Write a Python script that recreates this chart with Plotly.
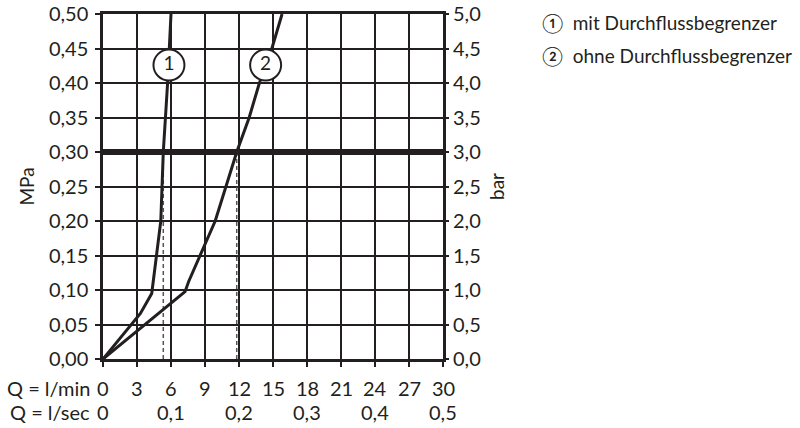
import plotly.graph_objects as go

# ---- data ----
curve1_q = [0, 2.5, 3.3, 4.3, 4.45, 4.7, 5.1, 5.32, 5.7, 6.0]
curve1_p = [0, 0.05, 0.066, 0.095, 0.115, 0.15, 0.20, 0.30, 0.40, 0.50]
curve2_q = [0, 3.6, 7.24, 7.55, 8.7, 9.9, 11.8, 12.9, 13.8, 14.9, 15.8]
curve2_p = [0, 0.048, 0.0975, 0.112, 0.155, 0.20, 0.30, 0.35, 0.40, 0.45, 0.50]
ref_pressure = 0.30
flow_at_ref = [5.32, 11.8]
label_pos_q = [5.82, 14.35]
label_pos_p = [0.426, 0.426]
label_text = ["1", "2"]

mpa_ticks = [0.00, 0.05, 0.10, 0.15, 0.20, 0.25, 0.30, 0.35, 0.40, 0.45, 0.50]
mpa_labels = ["0,00", "0,05", "0,10", "0,15", "0,20", "0,25", "0,30", "0,35", "0,40", "0,45", "0,50"]
bar_ticks = [0.0, 0.5, 1.0, 1.5, 2.0, 2.5, 3.0, 3.5, 4.0, 4.5, 5.0]
bar_labels = ["0,0", "0,5", "1,0", "1,5", "2,0", "2,5", "3,0", "3,5", "4,0", "4,5", "5,0"]
lmin_ticks = [0, 3, 6, 9, 12, 15, 18, 21, 24, 27, 30]
lmin_labels = ["0", "3", "6", "9", "12", "15", "18", "21", "24", "27", "30"]
lsec_pos = [0, 6, 12, 18, 24, 30]
lsec_labels = ["0", "0,1", "0,2", "0,3", "0,4", "0,5"]
row_titles = ["Q = l/min", "Q = l/sec"]
legend_lines = ["\u2460  mit Durchflussbegrenzer", "\u2461  ohne Durchflussbegrenzer"]

FONT = "Lato"
FS = 20
LFS = 19
INK = "#231f20"

fig = go.Figure()

# reference line at 0.30 MPa
fig.add_trace(go.Scatter(x=[0, 30], y=[ref_pressure, ref_pressure], mode="lines",
                         line=dict(color=INK, width=6), hoverinfo="skip"))
# dashed drop lines
for q in flow_at_ref:
    fig.add_trace(go.Scatter(x=[q, q], y=[0, ref_pressure], mode="lines",
                             line=dict(color="#555555", width=1.5, dash="4px,3px"), hoverinfo="skip"))
# curves
fig.add_trace(go.Scatter(x=curve1_q, y=curve1_p, mode="lines",
                         line=dict(color=INK, width=3), hoverinfo="skip"))
fig.add_trace(go.Scatter(x=curve2_q, y=curve2_p, mode="lines",
                         line=dict(color=INK, width=3), hoverinfo="skip"))
# circled labels
fig.add_trace(go.Scatter(x=label_pos_q, y=label_pos_p, mode="markers+text",
                         marker=dict(size=31, color="white", line=dict(color=INK, width=2)),
                         text=label_text, textposition="middle center",
                         textfont=dict(family=FONT, size=LFS, color=INK), hoverinfo="skip"))
# invisible trace for right axis
fig.add_trace(go.Scatter(x=[0, 30], y=[0, 5], yaxis="y2", mode="lines",
                         line=dict(width=0), hoverinfo="skip"))

fig.update_layout(
    width=800, height=428,
    margin=dict(l=103, r=357, t=14, b=69, autoexpand=False),
    paper_bgcolor="white", plot_bgcolor="white",
    showlegend=False,
    font=dict(family=FONT, size=FS, color=INK),
    xaxis=dict(range=[0, 30], tickvals=lmin_ticks, showticklabels=False, automargin=False,
               showgrid=True, gridcolor=INK, gridwidth=2,
               showline=True, linecolor=INK, linewidth=2.5, mirror=True,
               ticks="outside", ticklen=5, tickwidth=2, tickcolor=INK, zeroline=False),
    yaxis=dict(range=[0, 0.5], tickvals=mpa_ticks, ticktext=mpa_labels, automargin=False,
               showgrid=True, gridcolor=INK, gridwidth=2,
               showline=True, linecolor=INK, linewidth=2.5, mirror=True,
               ticks="outside", ticklen=5, tickwidth=2, tickcolor=INK, zeroline=False,
               title=dict(text="MPa", standoff=10, font=dict(size=LFS)), ticklabelstandoff=3),
    yaxis2=dict(range=[0, 5], tickvals=bar_ticks, ticktext=bar_labels, overlaying="y", side="right",
                automargin=False,
                showgrid=False, showline=False, ticks="outside", ticklen=5, tickwidth=2, tickcolor=INK,
                zeroline=False, title=dict(text="bar", standoff=10, font=dict(size=LFS)),
                ticklabelstandoff=0),
)

# bottom rows (tick labels of the two flow scales)
for v, t in zip(lmin_ticks, lmin_labels):
    fig.add_annotation(x=v, xref="x", y=0, yref="y", yshift=-29, text=t, showarrow=False)
for v, t in zip(lsec_pos, lsec_labels):
    fig.add_annotation(x=v, xref="x", y=0, yref="y", yshift=-53, text=t, showarrow=False)
for i, t in enumerate(row_titles):
    fig.add_annotation(x=0, xref="x", xshift=-11, xanchor="right", y=0, yref="y",
                       yshift=-29 - 24 * i, text=t, showarrow=False)

# legend text block
for i, t in enumerate(legend_lines):
    fig.add_annotation(x=(540 - 103) / 340, xref="paper", xanchor="left",
                       y=(359 - 23 - 32 * i) / 345, yref="paper", yanchor="middle",
                       text=t, showarrow=False, font=dict(size=LFS))

fig.write_html("out.html", config={"displayModeBar": False},
               post_script="document.body.style.margin='0';")
